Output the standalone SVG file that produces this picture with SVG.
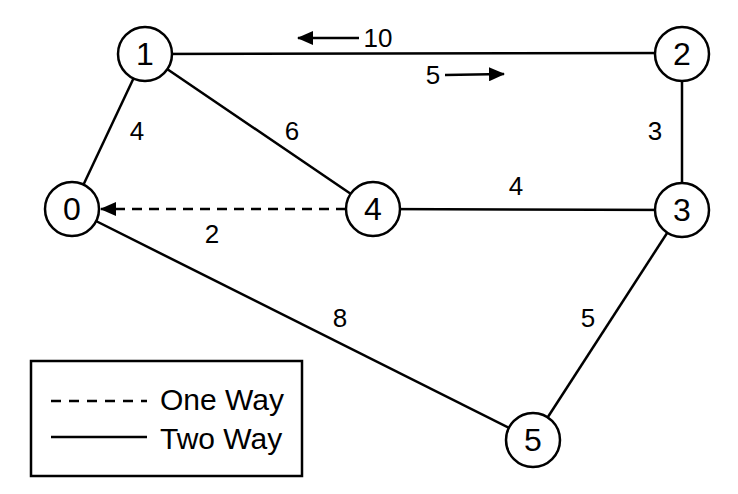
<svg xmlns="http://www.w3.org/2000/svg" width="738" height="494" viewBox="0 0 738 494">
<defs>
<style>
.n circle{fill:#fff;stroke:#000;stroke-width:2.5}
.n text{font-family:"Liberation Sans",Arial,sans-serif;font-size:32px;text-anchor:middle;fill:#000}
.e line{stroke:#000;stroke-width:2.5}
.lbl{font-family:"Liberation Sans",Arial,sans-serif;font-size:26px;text-anchor:middle;fill:#000}
.lg{font-family:"Liberation Sans",Arial,sans-serif;font-size:30px;fill:#000}
</style>
<marker id="ah2" markerWidth="16" markerHeight="14" refX="15" refY="7" orient="auto" markerUnits="userSpaceOnUse" viewBox="0 0 16 14">
<path d="M0,0 L16,7 L0,14 z" fill="#000"/>
</marker>
</defs>
<rect width="738" height="494" fill="#fff"/>
<g id="connectors" class="e">
<line x1="145" y1="54" x2="682" y2="53"/>
<line x1="145" y1="54" x2="72" y2="209"/>
<line x1="145" y1="54" x2="373" y2="209"/>
<line x1="682" y1="53" x2="682" y2="210"/>
<line x1="373" y1="209" x2="682" y2="210"/>
<line x1="72" y1="209" x2="533" y2="440"/>
<line x1="682" y1="210" x2="533" y2="440"/>
<line x1="346" y1="209" x2="101" y2="209" stroke-dasharray="10,7" marker-end="url(#ah2)"/>
<line x1="359" y1="38" x2="298" y2="38" marker-end="url(#ah2)"/>
<line x1="445" y1="75" x2="504" y2="74" marker-end="url(#ah2)"/>
</g>
<g id="edge-labels">
<text class="lbl" x="378" y="47">10</text>
<text class="lbl" x="433" y="84">5</text>
<text class="lbl" x="137" y="140">4</text>
<text class="lbl" x="292" y="140">6</text>
<text class="lbl" x="655" y="140">3</text>
<text class="lbl" x="516" y="195">4</text>
<text class="lbl" x="212" y="243">2</text>
<text class="lbl" x="340" y="327">8</text>
<text class="lbl" x="588" y="327">5</text>
</g>
<g id="node-0" class="n"><circle cx="72" cy="209" r="27"/><text x="72" y="220">0</text></g>
<g id="node-1" class="n"><circle cx="145" cy="54" r="27"/><text x="145" y="65">1</text></g>
<g id="node-2" class="n"><circle cx="682" cy="54" r="27"/><text x="682" y="65">2</text></g>
<g id="node-3" class="n"><circle cx="682" cy="210" r="27"/><text x="682" y="221">3</text></g>
<g id="node-4" class="n"><circle cx="373" cy="209" r="27"/><text x="373" y="220">4</text></g>
<g id="node-5" class="n"><circle cx="533" cy="440" r="27"/><text x="533" y="451">5</text></g>
<g id="legend">
<rect x="31" y="361" width="271" height="115" fill="#fff" stroke="#000" stroke-width="2.5"/>
<line x1="51" y1="401" x2="147" y2="401" stroke="#000" stroke-width="2.5" stroke-dasharray="10,8"/>
<line x1="51" y1="437" x2="147" y2="437" stroke="#000" stroke-width="2.5"/>
<text class="lg" x="160" y="410">One Way</text>
<text class="lg" x="160" y="449">Two Way</text>
</g>
</svg>
